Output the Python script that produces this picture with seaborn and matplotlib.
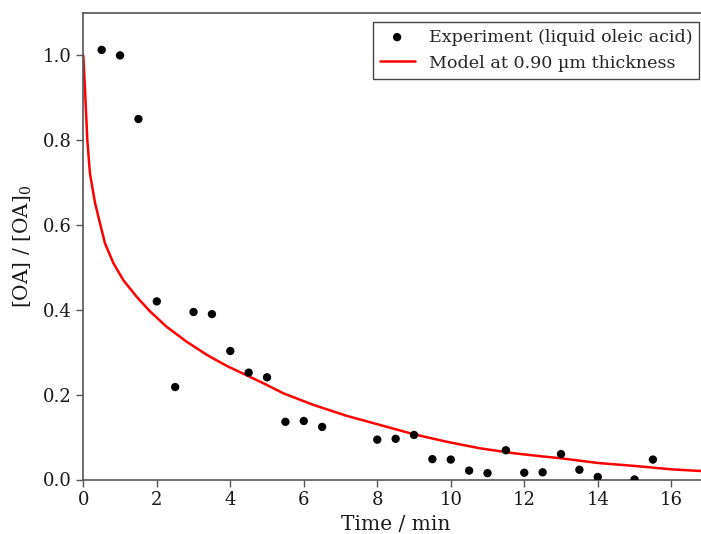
import matplotlib
matplotlib.use("Agg")
import matplotlib.pyplot as plt
import seaborn as sns
import pandas as pd

# Experimental data (liquid oleic acid)
exp_time = [0.5, 1.0, 1.5, 2.0, 2.5, 3.0, 3.5, 4.0, 4.5, 5.0, 5.5, 6.0, 6.5,
            8.0, 8.5, 9.0, 9.5, 10.0, 10.5, 11.0, 11.5, 12.0, 12.5, 13.0,
            13.5, 14.0, 15.0, 15.5]
exp_ratio = [1.013, 1.000, 0.850, 0.420, 0.218, 0.395, 0.390, 0.303, 0.252,
             0.241, 0.136, 0.138, 0.124, 0.094, 0.096, 0.105, 0.048, 0.047,
             0.021, 0.015, 0.069, 0.016, 0.017, 0.060, 0.023, 0.006, 0.000,
             0.047]

# Model curve
model_time = [0.0, 0.046, 0.11, 0.18, 0.32, 0.455, 0.59, 0.82, 1.09, 1.45,
              1.82, 2.27, 2.81, 3.36, 3.90, 4.90, 5.45, 6.26, 7.17, 8.08,
              8.98, 9.89, 10.80, 11.71, 12.43, 13.0, 14.0, 15.0, 16.0, 17.0]
model_ratio = [1.000, 0.919, 0.800, 0.722, 0.652, 0.604, 0.557, 0.510, 0.470,
               0.431, 0.396, 0.360, 0.325, 0.294, 0.268, 0.227, 0.203, 0.176,
               0.150, 0.1285, 0.107, 0.089, 0.0735, 0.062, 0.055, 0.050,
               0.039, 0.032, 0.024, 0.019]

x_ticks = [0, 2, 4, 6, 8, 10, 12, 14, 16]
y_ticks = [0.0, 0.2, 0.4, 0.6, 0.8, 1.0]

sns.set_style("ticks")
plt.rcParams['font.family'] = ['DejaVu Serif']
plt.rcParams['mathtext.fontset'] = 'dejavuserif'

fig = plt.figure(figsize=(7.01, 5.34), dpi=100)
W, H = 701, 534
left_px, right_px, top_px, bottom_px = 83.3, 708.0, 13.0, 479.5
ax = fig.add_axes([left_px / W, 1 - bottom_px / H,
                   (right_px - left_px) / W, (bottom_px - top_px) / H])

df_exp = pd.DataFrame({"t": exp_time, "r": exp_ratio})
df_mod = pd.DataFrame({"t": model_time, "r": model_ratio})

sns.scatterplot(data=df_exp, x="t", y="r", ax=ax, color="black", s=36,
                edgecolor="none", label="Experiment (liquid oleic acid)",
                zorder=3)
sns.lineplot(data=df_mod, x="t", y="r", ax=ax, color="red", linewidth=1.8,
             label="Model at 0.90 \u00b5m thickness", zorder=2)

ax.set_xlim(0, 17)
ax.set_ylim(0, 1.1)
ax.set_xticks(x_ticks)
ax.set_yticks(y_ticks)
ax.set_xticklabels([str(v) for v in x_ticks])
ax.set_yticklabels([f"{v:.1f}" for v in y_ticks])

spine_c = "#555555"
for s in ["left", "bottom", "top"]:
    ax.spines[s].set_color(spine_c)
    ax.spines[s].set_linewidth(1.2)
ax.spines["right"].set_visible(False)
ax.tick_params(axis="both", colors=spine_c, labelcolor="#1a1a1a",
               labelsize=13, length=5, width=1.0)

ax.set_xlabel("Time / min", fontsize=14.5, color="#1a1a1a", labelpad=4)
ax.set_ylabel(r"[OA] / [OA]$_0$", fontsize=14.5, color="#1a1a1a", labelpad=6)

leg = ax.legend(loc="upper right", fontsize=12.6, frameon=True,
                fancybox=False, framealpha=1, edgecolor="#444444",
                borderaxespad=0.5)
leg.get_frame().set_linewidth(1.0)

fig.savefig("out.png", dpi=100)
